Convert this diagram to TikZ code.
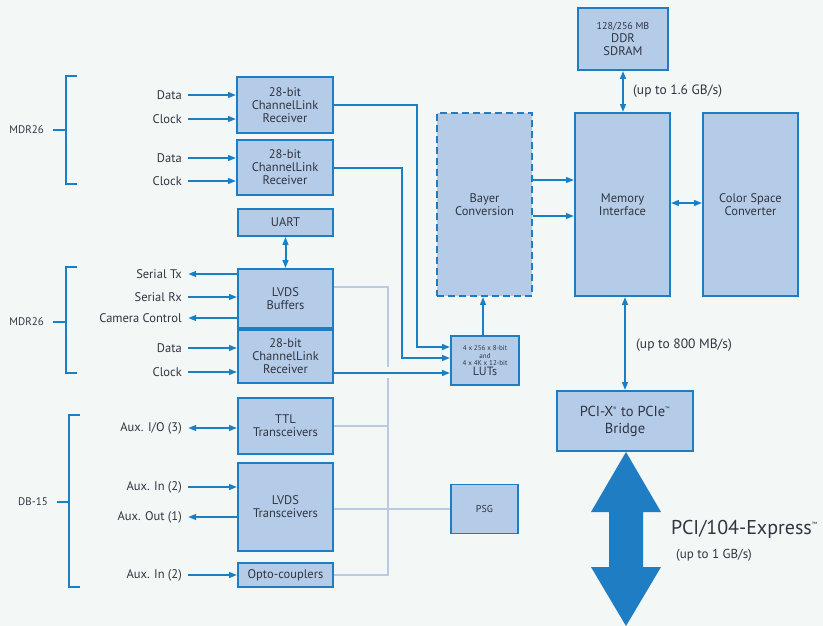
\documentclass[tikz,border=0pt]{standalone}
\usepackage{fontspec}
\setmainfont{PT Sans}
\usetikzlibrary{arrows.meta,calc}
\definecolor{bg}{RGB}{243,247,246}
\definecolor{boxfill}{RGB}{180,204,232}
\definecolor{boxline}{RGB}{30,125,195}
\definecolor{arrblue}{RGB}{25,128,198}
\definecolor{gryline}{RGB}{188,202,225}
\definecolor{txt}{RGB}{50,52,64}
\tikzset{
  blk/.style={draw=boxline, fill=boxfill, line width=1.6pt, text=txt, align=center,
    inner sep=0pt, font=\fontsize{12.5}{13}\selectfont},
  lbl/.style={text=txt, inner sep=0pt, font=\fontsize{12.5}{14}\selectfont},
  arr/.style={draw=arrblue, line width=2pt, -{Triangle[length=8pt,width=5.5pt]}},
  darr/.style={draw=arrblue, line width=2pt, {Triangle[length=8pt,width=5.5pt]}-{Triangle[length=8pt,width=5.5pt]}},
  brk/.style={draw=arrblue, line width=2.3pt},
  gry/.style={draw=gryline, line width=1.6pt},
}
\begin{document}
\begin{tikzpicture}[x=1pt,y=-1pt]
\fill[bg] (0,0) rectangle (823,626);
\useasboundingbox (0,0) rectangle (823,626);

% blocks
\node[blk, minimum width=96pt, minimum height=56pt] (cl1) at (285,105) {28-bit\\ChannelLink\\Receiver};
\node[blk, minimum width=96pt, minimum height=55pt] (cl2) at (285,167.5) {28-bit\\ChannelLink\\Receiver};
\node[blk, minimum width=95pt, minimum height=27pt] (uart) at (285.5,222.5) {UART};
\node[blk, minimum width=95pt, minimum height=59pt] (lvdsb) at (285.5,298.5) {LVDS\\Buffers};
\node[blk, minimum width=95pt, minimum height=53pt] (cl3) at (285.5,356.5) {28-bit\\ChannelLink\\Receiver};
\node[blk, minimum width=95pt, minimum height=56pt] (ttl) at (285.5,426) {TTL\\Transceivers};
\node[blk, minimum width=95pt, minimum height=88pt] (lvdst) at (285.5,507) {LVDS\\Transceivers};
\node[blk, minimum width=95pt, minimum height=24pt] (opto) at (285.5,575) {Opto-couplers};
\node[blk, dash pattern=on 7pt off 4pt, minimum width=95pt, minimum height=183pt] (bayer) at (484.5,204.5) {Bayer\\Conversion};
\node[blk, minimum width=68pt, minimum height=49pt, font=\fontsize{7}{7.5}\selectfont] (luts) at (485,360.5)
  {4 x 256 x 8-bit\\and\\4 x 4K x 12-bit\\{\fontsize{12}{12}\selectfont LUTs}};
\node[blk, minimum width=90pt, minimum height=62pt] (ddr) at (623,39)
  {{\fontsize{10}{11}\selectfont 128/256 MB}\\DDR\\SDRAM};
\node[blk, minimum width=95pt, minimum height=183pt] (mem) at (622.5,204.5) {Memory\\Interface};
\node[blk, minimum width=95pt, minimum height=183pt] (csc) at (750.5,204.5) {Color Space\\Converter};
\node[blk, minimum width=136pt, minimum height=60pt, font=\fontsize{14.5}{17}\selectfont] (bridge) at (625,421)
  {PCI-X\textsuperscript{\fontsize{5}{5}\selectfont ®} to PCIe\textsuperscript{\fontsize{5}{5}\selectfont ™}\\Bridge};
\node[blk, minimum width=67pt, minimum height=49pt, font=\fontsize{10}{11}\selectfont] (psg) at (484.5,509) {PSG};

% connector labels (left side)
\node[lbl, anchor=east, inner xsep=6pt] (d1) at (188,95) {Data};
\node[lbl, anchor=east, inner xsep=6pt] (c1) at (188,119) {Clock};
\node[lbl, anchor=east, inner xsep=6pt] (d2) at (188,158) {Data};
\node[lbl, anchor=east, inner xsep=6pt] (c2) at (188,181) {Clock};
\node[lbl, anchor=east, inner xsep=6pt] (stx) at (188,274) {Serial Tx};
\node[lbl, anchor=east, inner xsep=6pt] (srx) at (188,297) {Serial Rx};
\node[lbl, anchor=east, inner xsep=6pt] (cc) at (188,318) {Camera Control};
\node[lbl, anchor=east, inner xsep=6pt] (d3) at (188,348) {Data};
\node[lbl, anchor=east, inner xsep=6pt] (c3) at (188,372) {Clock};
\node[lbl, anchor=east, inner xsep=6pt] (aio) at (188,428) {Aux. I/O (3)};
\node[lbl, anchor=east, inner xsep=6pt] (ain1) at (188,487) {Aux. In (2)};
\node[lbl, anchor=east, inner xsep=6pt] (aout) at (188,517) {Aux. Out (1)};
\node[lbl, anchor=east, inner xsep=6pt] (ain2) at (188,575) {Aux. In (2)};

\draw[arr] (d1.east) -- (d1.east -| cl1.west);
\draw[arr] (c1.east) -- (c1.east -| cl1.west);
\draw[arr] (d2.east) -- (d2.east -| cl2.west);
\draw[arr] (c2.east) -- (c2.east -| cl2.west);
\draw[arr] (stx.east -| lvdsb.west) -- (stx.east);
\draw[arr] (srx.east) -- (srx.east -| lvdsb.west);
\draw[arr] (cc.east -| lvdsb.west) -- (cc.east);
\draw[arr] (d3.east) -- (d3.east -| cl3.west);
\draw[arr] (c3.east) -- (c3.east -| cl3.west);
\draw[darr] (aio.east) -- (aio.east -| ttl.west);
\draw[arr] (ain1.east) -- (ain1.east -| lvdst.west);
\draw[arr] (aout.east -| lvdst.west) -- (aout.east);
\draw[arr] (ain2.east) -- (ain2.east -| opto.west);

% connector groups
\node[lbl, font=\fontsize{11}{12}\selectfont, anchor=east] (m1) at (44,130) {MDR26};
\node[lbl, font=\fontsize{11}{12}\selectfont, anchor=east] (m2) at (44,322) {MDR26};
\node[lbl, font=\fontsize{11}{12}\selectfont, anchor=east] (db) at (48,502) {DB-15};
\draw[brk] (77,76) -- (66,76) -- (66,184) -- (77,184);
\draw[brk] (53,130) -- (66,130);
\draw[brk] (77,267) -- (66,267) -- (66,373) -- (77,373);
\draw[brk] (53,322) -- (66,322);
\draw[brk] (80,415) -- (69,415) -- (69,587) -- (80,587);
\draw[brk] (57,502) -- (69,502);

% grey bus lines
\coordinate (g1) at (0,287);
\draw[gry] (lvdsb.east |- g1) -- (388,287) -- (388,367);
\draw[gry] (388,378) -- (388,575) -- (opto.east);
\draw[gry] (ttl.east) -- (ttl.east -| 388,0);
\draw[gry] (lvdst.east |- psg.west) -- (psg.west);

% UART
\draw[darr] (uart.south) -- (lvdsb.north);

% to LUTs
\draw[arr] (cl1.east) -- (417,105) -- (417,347) -- (luts.west |- 0,347);
\draw[arr] (cl2.east) -- (402,167.5) -- (402,358) -- (luts.west |- 0,358);
\coordinate (l3) at (0,373);
\draw[arr] (cl3.east |- l3) -- (luts.west |- l3);
\draw[arr] (luts.north -| 483,0) -- (bayer.south -| 483,0);

% Bayer -> memory
\coordinate (b1) at (0,180);
\coordinate (b2) at (0,216);
\draw[arr] (bayer.east |- b1) -- (mem.west |- b1);
\draw[arr] (bayer.east |- b2) -- (mem.west |- b2);
\coordinate (b3) at (0,203);
\draw[darr] (mem.east |- b3) -- (csc.west |- b3);

% DDR and bridge
\coordinate (vx) at (623,0);
\draw[darr] (ddr.south -| vx) -- (mem.north -| vx);
\node[lbl, font=\fontsize{13.5}{15}\selectfont, anchor=west] (r16) at (633,91) {(up to 1.6 GB/s)};
\coordinate (vx2) at (625,0);
\draw[darr] (mem.south -| vx2) -- (bridge.north -| vx2);
\node[lbl, font=\fontsize{13.5}{15}\selectfont, anchor=west] (r800) at (636,345) {(up to 800 MB/s)};

% big bus arrow
\fill[boxline] (626,452) -- (661,512) -- (643,512) -- (643,567) -- (661,567) -- (626,626)
  -- (591,567) -- (609,567) -- (609,512) -- (591,512) -- cycle;
\node[lbl, font=\fontsize{20}{24}\selectfont, anchor=west] (pcie) at (671,529)
  {PCI/104-Express\textsuperscript{\fontsize{6}{6}\selectfont ™}};
\node[lbl, font=\fontsize{13}{14}\selectfont, anchor=west] (r1g) at (676,555) {(up to 1 GB/s)};
\end{tikzpicture}
\end{document}
